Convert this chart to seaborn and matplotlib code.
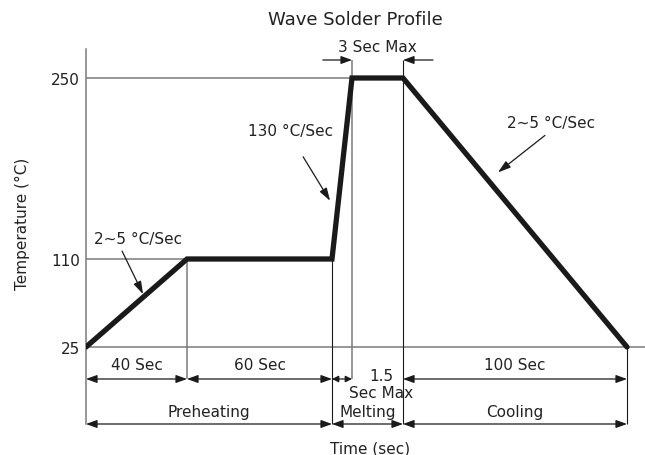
import numpy as np
import matplotlib
matplotlib.use("Agg")
import matplotlib.pyplot as plt
import seaborn as sns

# profile break points
phase_times = [0, 40, 100, 101.5, 104.5, 204.5]   # sec
phase_temps = [25, 110, 110, 250, 250, 25]         # degC
temp_ticks = [25, 110, 250]

# dimension rows (start, end, label)
step_dims = [(0, 40, "40 Sec"), (40, 100, "60 Sec"), (100, 101.5, ""), (104.5, 204.5, "100 Sec")]
zone_dims = [(0, 100, "Preheating"), (100, 104.5, "Melting"), (104.5, 204.5, "Cooling")]

# slope callouts: label, point on the profile (time, temp)
slope_labels = ["2~5 °C/Sec", "130 °C/Sec", "2~5 °C/Sec"]
slope_points = [(22.6, 76.0), (99.2, 155.0), (146.9, 177.0)]

# schematic (non linear) axes: value -> pixel knots
x_knots_px = [86, 187, 332, 352, 403, 627]
y_knots_px = [348, 260, 79]
W, H = 645, 456


def piecewise(src, dst):
    src = np.asarray(src, float)
    dst = np.asarray(dst, float)
    s0 = (dst[1] - dst[0]) / (src[1] - src[0])
    s1 = (dst[-1] - dst[-2]) / (src[-1] - src[-2])

    def f(v):
        v = np.asarray(v, float)
        out = np.interp(v, src, dst)
        out = np.where(v < src[0], dst[0] + (v - src[0]) * s0, out)
        out = np.where(v > src[-1], dst[-1] + (v - src[-1]) * s1, out)
        return out
    return f


fx = piecewise(phase_times, x_knots_px)
fx_inv = piecewise(x_knots_px, phase_times)
fy = piecewise(temp_ticks, [-p for p in y_knots_px])
fy_inv = piecewise([-p for p in y_knots_px], temp_ticks)


def ypx(p):
    # pixel row (from top) -> temperature value
    return float(fy_inv(-p))


sns.set_theme(style="white")
plt.rcParams["font.family"] = ["DejaVu Sans"]

GREY = "#7a7a7a"
DARK = "#1a1a1a"
FS = 11

fig = plt.figure(figsize=(W / 100, H / 100), dpi=100)
ax = fig.add_axes([86 / W, 0, 1 - 86 / W, 1])

sns.lineplot(x=phase_times, y=phase_temps, ax=ax, sort=False, color=DARK,
             lw=3.8, solid_capstyle="round", solid_joinstyle="miter", zorder=5)

ax.set_xscale("function", functions=(fx, fx_inv))
ax.set_yscale("function", functions=(fy, fy_inv))
ax.set_xlim(0, float(fx_inv(W)))
ax.set_ylim(ypx(H), ypx(0))

for s in ["top", "right", "bottom"]:
    ax.spines[s].set_visible(False)
ax.spines["left"].set_color(GREY)
ax.spines["left"].set_linewidth(1.1)
ax.spines["left"].set_bounds(ypx(425), ypx(50))
ax.set_xticks([])
ax.set_yticks(temp_ticks)
ax.set_yticklabels([str(t) for t in temp_ticks])
ax.tick_params(axis="y", length=0, pad=4.5, labelsize=FS, labelcolor="#222222")
ax.set_xlabel("")
ax.set_ylabel("")

row1 = ypx(380)
row2 = ypx(425)
top_arrow = ypx(61)

# reference lines
ax.axhline(25, color=GREY, lw=1.1, zorder=1)
ax.hlines(250, 0, phase_times[3], color=GREY, lw=1.1, zorder=1)
ax.hlines(110, 0, phase_times[1], color=GREY, lw=1.1, zorder=1)
ax.vlines(phase_times[1], row1, 110, color=GREY, lw=1.1, zorder=1)
ax.vlines(phase_times[3], row1, top_arrow, color=GREY, lw=1.1, zorder=1)
ax.vlines(phase_times[2], row2, 110, color=DARK, lw=0.8, zorder=1)
ax.vlines(phase_times[4], row2, top_arrow, color=DARK, lw=0.8, zorder=1)
ax.vlines(phase_times[5], row2, 25, color=DARK, lw=0.8, zorder=1)


def dim(x0, x1, y):
    span = float(fx(x1) - fx(x0))
    if span < 40:
        style = "<|-|>,head_length=0.32,head_width=0.16"
    else:
        style = "<|-|>,head_length=0.55,head_width=0.2"
    ax.annotate("", xy=(x1, y), xytext=(x0, y),
                arrowprops=dict(arrowstyle=style, color=DARK, lw=0.9,
                                shrinkA=0, shrinkB=0, mutation_scale=12))


for x0, x1, lab in step_dims:
    dim(x0, x1, row1)
    if lab:
        ax.text(float(fx_inv((fx(x0) + fx(x1)) / 2)), ypx(366), lab,
                ha="center", va="center", fontsize=FS, color="#222222")
for x0, x1, lab in zone_dims:
    dim(x0, x1, row2)
    ax.text(float(fx_inv((fx(x0) + fx(x1)) / 2)), ypx(413), lab,
            ha="center", va="center", fontsize=FS, color="#222222")

ax.text(float(fx_inv(381)), ypx(385), "1.5\nSec Max", ha="center", va="center",
        fontsize=FS, color="#222222", linespacing=1.15)

# 3 Sec Max
one_way = "-|>,head_length=0.55,head_width=0.2"
for xt, dx in [(phase_times[3], -21), (phase_times[4], 21.6)]:
    ax.annotate("", xy=(xt, top_arrow), xytext=(dx, 0), textcoords="offset points",
                arrowprops=dict(arrowstyle=one_way, color=DARK, lw=0.9,
                                shrinkA=0, shrinkB=0, mutation_scale=12))
ax.text((phase_times[3] + phase_times[4]) / 2, ypx(48), "3 Sec Max",
        ha="center", va="center", fontsize=FS, color="#222222")

# slope callouts
tails = [(-15.1, 31.0), (-19.4, 31.7), (33.8, 26.6)]
texts = [(-3.6, 40.3), (-28.8, 50.4), (38.2, 36.0)]
for lab, pt, tl, tx in zip(slope_labels, slope_points, tails, texts):
    ax.annotate("", xy=pt, xytext=tl, textcoords="offset points",
                arrowprops=dict(arrowstyle="-|>,head_length=0.7,head_width=0.22",
                                color=DARK, lw=0.9, shrinkA=0, shrinkB=0,
                                mutation_scale=11), zorder=6)
    ax.annotate(lab, xy=pt, xytext=tx, textcoords="offset points",
                ha="center", va="center", fontsize=FS, color="#222222")

fig.text(355 / W, 1 - 20 / H, "Wave Solder Profile", ha="center", va="center",
         fontsize=13, color="#222222")
fig.text(370 / W, 1 - 449 / H, "Time (sec)", ha="center", va="center",
         fontsize=FS, color="#222222")
fig.text(22 / W, 1 - 224 / H, "Temperature (°C)", ha="center", va="center",
         rotation=90, fontsize=FS, color="#222222")

fig.savefig("out.png", dpi=100)
